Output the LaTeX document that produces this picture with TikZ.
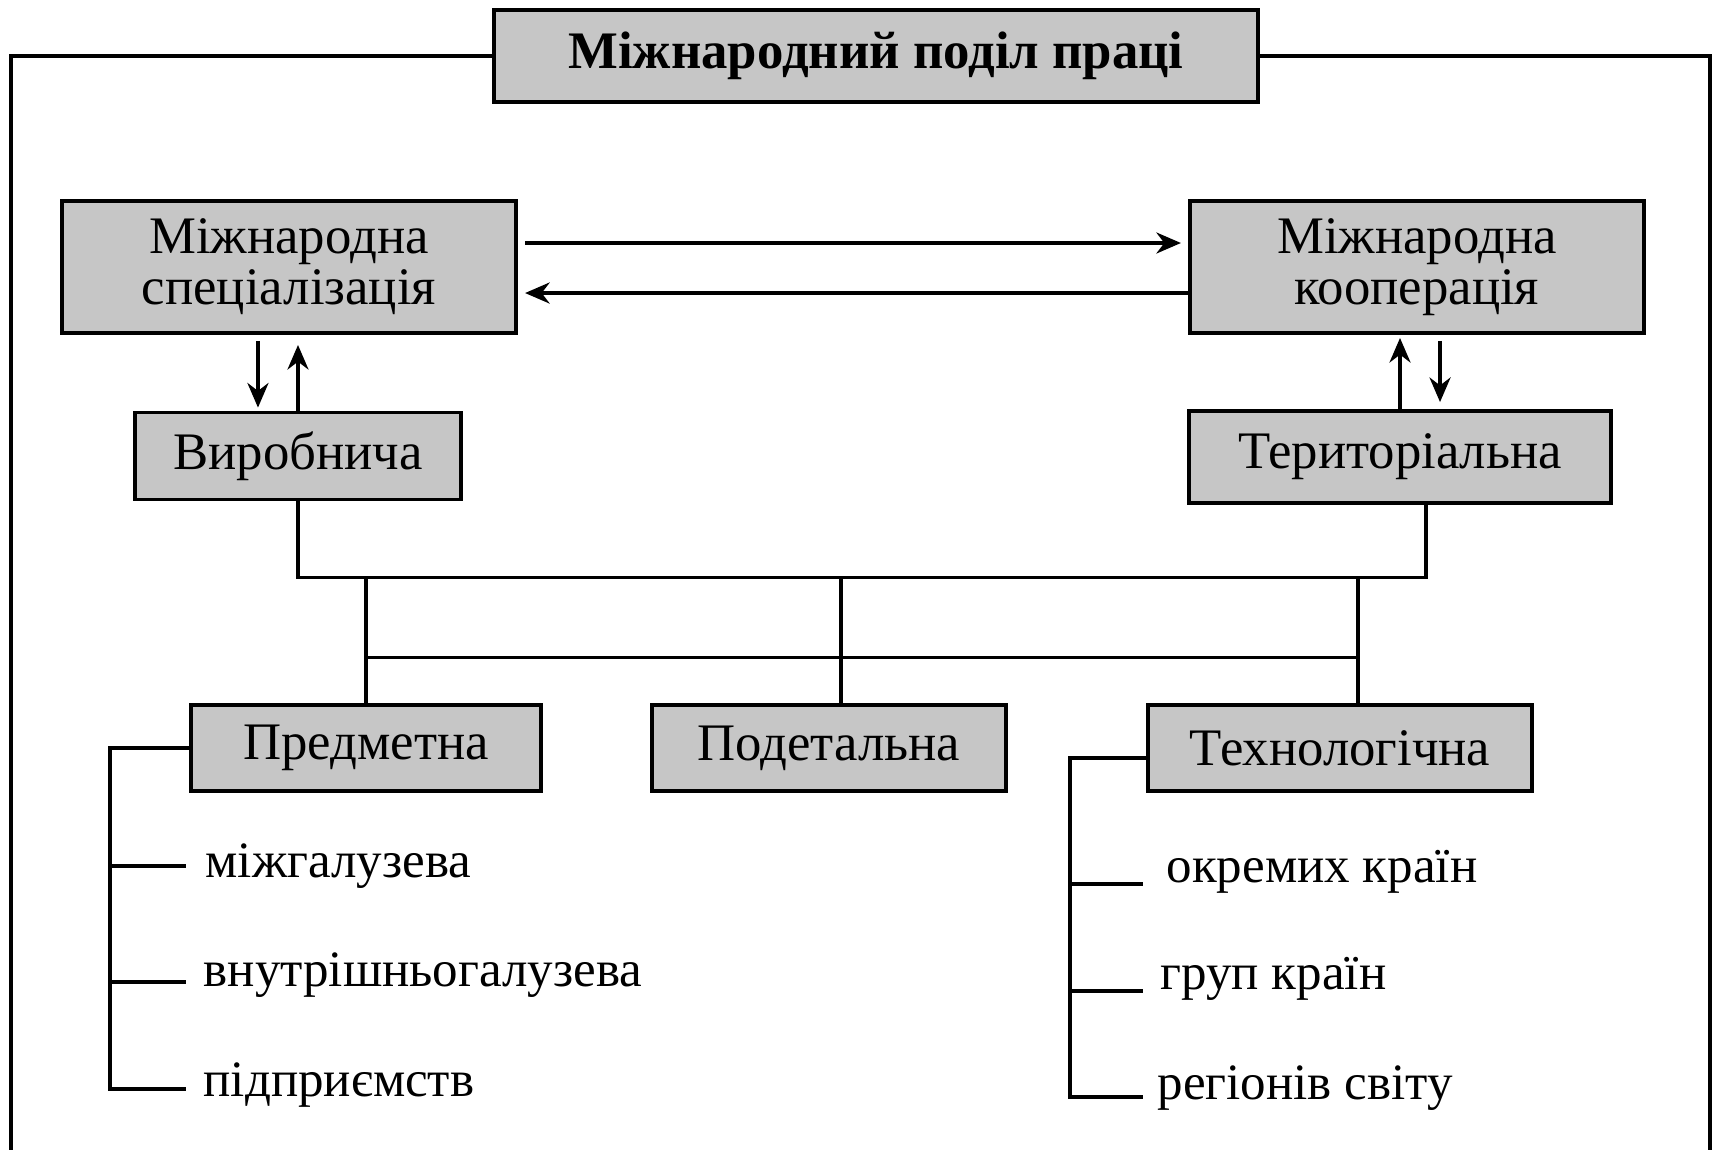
\documentclass[tikz,border=0pt]{standalone}
\usepackage{fontspec}
\setmainfont{Liberation Serif}
\usetikzlibrary{arrows.meta,calc}

\definecolor{boxgray}{RGB}{198,198,198}

\tikzset{
	box/.style={draw=black, line width=1.1pt, fill=boxgray, inner sep=0pt, align=center,
		font=\fontsize{15}{14.5}\selectfont},
	item/.style={anchor=west, inner sep=0pt, font=\fontsize{14.5}{14.5}\selectfont},
	link/.style={line width=0.9pt},
	arr/.style={line width=0.9pt, -{Stealth[length=7pt,width=6pt]}}
}

\begin{document}
\begin{tikzpicture}[x=0.01cm, y=-0.01cm]
		\useasboundingbox (0,0) rectangle (1715,1150);

		% boxes
		\node [box, minimum width=7.63cm, minimum height=0.92cm, font=\bfseries\fontsize{15}{15}\selectfont] (title) at (876,56) {Міжнародний поділ праці};
		\node [box, minimum width=4.54cm, minimum height=1.32cm] (spec) at (289,267) {Міжнародна\\спеціалізація};
		\node [box, minimum width=4.54cm, minimum height=1.32cm] (coop) at (1417,267) {Міжнародна\\кооперація};
		\node [box, minimum width=3.25cm, minimum height=0.87cm] (vyr) at (298,456) {Виробнича};
		\node [box, minimum width=4.21cm, minimum height=0.92cm] (terr) at (1400,457) {Територіальна};
		\node [box, minimum width=3.49cm, minimum height=0.86cm] (predm) at (366,748) {Предметна};
		\node [box, minimum width=3.54cm, minimum height=0.86cm] (podet) at (829,748) {Подетальна};
		\node [box, minimum width=3.83cm, minimum height=0.86cm] (tech) at (1340,748) {Технологічна};

		% outer frame
		\coordinate (frameL) at (11,1150);
		\coordinate (frameR) at (1710,1150);
		\draw [link] (title.west) -| (frameL);
		\draw [link] (title.east) -| (frameR);

		% arrows
		\draw [arr, shorten <=0.07cm, shorten >=0.07cm] ([yshift=0.24cm]spec.east) -- ([yshift=0.24cm]coop.west);
		\draw [arr, shorten >=0.07cm] ([yshift=-0.26cm]coop.west) -- ([yshift=-0.26cm]spec.east);
		\draw [arr, shorten <=0.06cm, shorten >=0.03cm] ([xshift=-0.4cm]vyr.north |- spec.south) -- ([xshift=-0.4cm]vyr.north);
		\draw [arr, shorten >=0.1cm] (vyr.north) -- (vyr.north |- spec.south);
		\draw [arr, shorten >=0.03cm] (terr.north) -- (terr.north |- coop.south);
		\draw [arr, shorten <=0.06cm, shorten >=0.07cm] ([xshift=0.4cm]terr.north |- coop.south) -- ([xshift=0.4cm]terr.north);

		% bus lines
		\path (vyr.south) ++(0,76) coordinate (bus);
		\path (bus) ++(0,80) coordinate (bus2);
		\draw [link] (vyr.south) -- (bus) -| ([xshift=0.26cm]terr.south);
		\draw [link] (predm.north) -- (predm.north |- bus);
		\draw [link] ([xshift=0.12cm]podet.north) -- ([xshift=0.12cm]podet.north |- bus);
		\draw [link] ([xshift=0.18cm]tech.north) -- ([xshift=0.18cm]tech.north |- bus);
		\draw [link] (predm.north |- bus2) -- ([xshift=0.18cm]tech.north |- bus2);

		% left list
		\node [item] (mizh) at (205,866) {міжгалузева};
		\node [item] (vnut) at (203,975) {внутрішньогалузева};
		\node [item] (pidp) at (203,1085) {підприємств};
		\draw [link] (predm.west) -| ([xshift=-0.93cm,yshift=-0.04cm]pidp.west) -- ++(76,0);
		\draw [link] ([xshift=-0.95cm]mizh.west) -- ++(76,0);
		\draw [link] ([xshift=-0.93cm,yshift=-0.07cm]vnut.west) -- ++(76,0);

		% right list
		\node [item] (okr) at (1166,872) {окремих країн};
		\node [item] (grup) at (1160,979) {груп країн};
		\node [item] (reg) at (1157,1088) {регіонів світу};
		\draw [link] ([yshift=-0.1cm]tech.west) -| ([xshift=-0.87cm,yshift=-0.09cm]reg.west) -- ++(73,0);
		\draw [link] ([xshift=-0.96cm,yshift=-0.12cm]okr.west) -- ++(73,0);
		\draw [link] ([xshift=-0.9cm,yshift=-0.12cm]grup.west) -- ++(73,0);

		\end{tikzpicture}
\end{document}
